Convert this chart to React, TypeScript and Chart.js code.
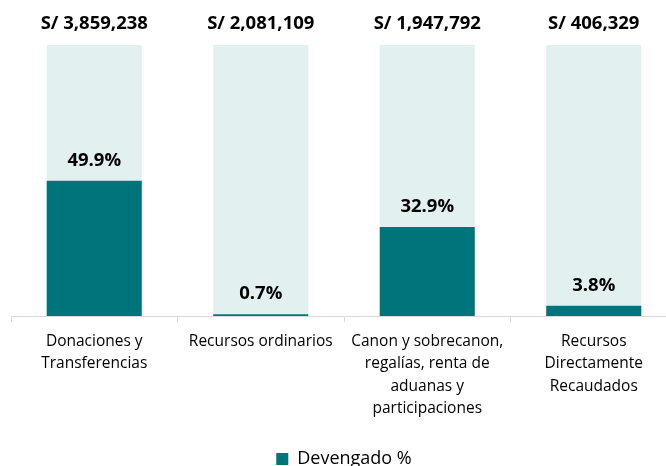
import React, { useEffect, useRef } from "react";
import { Chart, registerables } from "chart.js";

Chart.register(...registerables);

const categories: string[][] = [
  ["Donaciones y", "Transferencias"],
  ["Recursos ordinarios"],
  ["Canon y sobrecanon,", "regalías, renta de", "aduanas y", "participaciones"],
  ["Recursos", "Directamente", "Recaudados"],
];
const devengadoPct: number[] = [49.9, 0.7, 32.9, 3.8];
const montos: number[] = [3859238, 2081109, 1947792, 406329];

const TEAL = "#00747B";
const LIGHT = "#E3F0F0";
const FONT = "'Open Sans', 'Noto Sans', sans-serif";

const labelsPlugin = {
  id: "valueLabels",
  afterDatasetsDraw(chart: any) {
    const ctx = chart.ctx;
    const meta = chart.getDatasetMeta(0);
    ctx.save();
    ctx.fillStyle = "#000";
    ctx.textAlign = "center";
    ctx.textBaseline = "middle";
    meta.data.forEach((el: any, i: number) => {
      ctx.font = `bold 18.5px ${FONT}`;
      ctx.fillText(devengadoPct[i].toFixed(1) + "%", el.x, el.y - 20);
      ctx.font = `bold 18.5px ${FONT}`;
      ctx.fillText("S/ " + montos[i].toLocaleString("en-US"), el.x, chart.chartArea.top - 21);
    });
    ctx.restore();
  },
};

export default function App() {
  const ref = useRef<HTMLCanvasElement>(null);
  useEffect(() => {
    if (!ref.current) return;
    const chart = new Chart(ref.current, {
      type: "bar",
      data: {
        labels: categories,
        datasets: [
          {
            label: "Devengado %",
            data: devengadoPct,
            backgroundColor: TEAL,
            borderWidth: 0,
            barPercentage: 0.571,
            categoryPercentage: 1,
          },
          {
            label: "Resto",
            data: devengadoPct.map((v) => 100 - v),
            backgroundColor: LIGHT,
            borderWidth: 0,
            barPercentage: 0.571,
            categoryPercentage: 1,
          },
        ],
      },
      options: {
        animation: false,
        responsive: false,
        maintainAspectRatio: false,
        layout: { padding: { left: 11, right: 23, top: 45, bottom: -12 } },
        scales: {
          x: {
            stacked: true,
            grid: {
              display: true,
              drawOnChartArea: false,
              tickLength: 6,
              color: "#D9D9D9",
              offset: true,
            },
            border: { color: "#D9D9D9", width: 1 },
            ticks: {
              color: "#000",
              font: { family: FONT, size: 15.5, lineHeight: 1.45 },
              padding: 8,
              maxRotation: 0,
              autoSkip: false,
            },
            title: {
              display: true,
              text: "",
              font: { size: 20, lineHeight: 1 },
              padding: { top: 2, bottom: 0 },
            },
          },
          y: { stacked: true, display: false, min: 0, max: 100 },
        },
        plugins: {
          legend: {
            position: "bottom",
            labels: {
              filter: (item: any) => item.datasetIndex === 0,
              boxWidth: 12,
              boxHeight: 12,
              color: "#000",
              font: { family: FONT, size: 18 },
              padding: 0,
            },
          },
          tooltip: { enabled: false },
        },
      },
      plugins: [labelsPlugin],
    });
    return () => chart.destroy();
  }, []);
  return (
    <div style={{ position: "fixed", left: 0, top: 0, width: 666, height: 466, overflow: "hidden", background: "#fff" }}>
      <canvas ref={ref} width={700} height={466} style={{ width: 700, height: 466, display: "block" }} />
    </div>
  );
}
